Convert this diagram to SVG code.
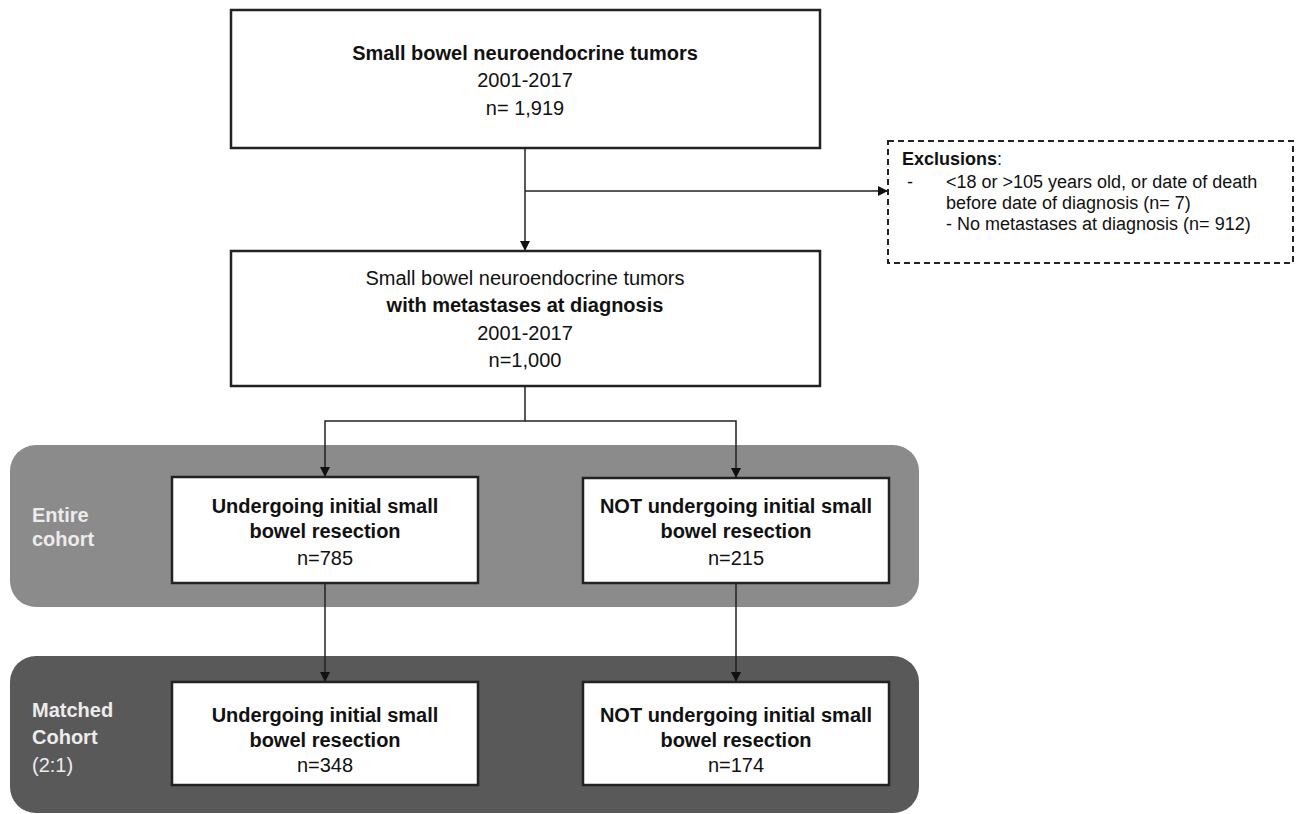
<svg xmlns="http://www.w3.org/2000/svg" width="1302" height="814" viewBox="0 0 1302 814">
<defs>
<marker id="arr" markerWidth="10" markerHeight="10" refX="9" refY="5" orient="auto" markerUnits="userSpaceOnUse"><path d="M0,0 L10,5 L0,10 z" fill="#111"/></marker>
<style>
.box{fill:#fff;stroke:#222;stroke-width:2.5}
.t{font-family:"Liberation Sans",Arial,sans-serif;font-size:20px;fill:#111;text-anchor:middle}
.b{font-weight:bold}
.lab{font-family:"Liberation Sans",Arial,sans-serif;font-size:20px;font-weight:bold;fill:#ececec}
.lab.n{font-weight:normal}
.ex{font-family:"Liberation Sans",Arial,sans-serif;font-size:18px;fill:#111}
.c{fill:none;stroke:#222;stroke-width:1.5}
</style>
</defs>
<rect width="1302" height="814" fill="#fff"/>
<g id="band-entire"><rect x="10" y="445" width="909" height="162" rx="26" fill="#8b8b8b"/>
<text class="lab" x="32" y="522">Entire</text><text class="lab" x="32" y="546">cohort</text></g>
<g id="band-matched"><rect x="10" y="656" width="909" height="157" rx="26" fill="#595959"/>
<text class="lab" x="32" y="717">Matched</text><text class="lab" x="32" y="744">Cohort</text><text class="lab n" x="32" y="772">(2:1)</text></g>
<g id="connectors">
<line class="c" x1="525" y1="148" x2="525" y2="250" marker-end="url(#arr)"/>
<line class="c" x1="525" y1="191" x2="887" y2="191" marker-end="url(#arr)"/>
<polyline class="c" points="525,386 525,421 325,421 325,476" marker-end="url(#arr)"/>
<polyline class="c" points="525,421 736,421 736,477" marker-end="url(#arr)"/>
<line class="c" x1="325" y1="583" x2="325" y2="681" marker-end="url(#arr)"/>
<line class="c" x1="736" y1="583" x2="736" y2="681" marker-end="url(#arr)"/>
</g>
<g id="n-top"><rect class="box" x="231" y="10" width="589" height="138"/>
<text class="t b" x="525" y="60">Small bowel neuroendocrine tumors</text>
<text class="t" x="525" y="87">2001-2017</text>
<text class="t" x="525" y="115">n= 1,919</text></g>
<g id="n-excl"><rect x="888" y="141" width="405" height="122" fill="#fff" stroke="#222" stroke-width="2" stroke-dasharray="6,4"/>
<text class="ex" x="902" y="165"><tspan font-weight="bold">Exclusions</tspan>:</text>
<text class="ex" x="907" y="188">-</text>
<text class="ex" x="946" y="188">&lt;18 or &gt;105 years old, or date of death</text>
<text class="ex" x="946" y="209">before date of diagnosis (n= 7)</text>
<text class="ex" x="946" y="230">- No metastases at diagnosis (n= 912)</text></g>
<g id="n-mid"><rect class="box" x="231" y="251" width="589" height="135"/>
<text class="t" x="525" y="285">Small bowel neuroendocrine tumors</text>
<text class="t b" x="525" y="312">with metastases at diagnosis</text>
<text class="t" x="525" y="340">2001-2017</text>
<text class="t" x="525" y="367">n=1,000</text></g>
<g id="n-e1"><rect class="box" x="172" y="477" width="306" height="106"/>
<text class="t b" x="325" y="513">Undergoing initial small</text>
<text class="t b" x="325" y="538">bowel resection</text>
<text class="t" x="325" y="565">n=785</text></g>
<g id="n-e2"><rect class="box" x="583" y="478" width="306" height="105"/>
<text class="t b" x="736" y="513">NOT undergoing initial small</text>
<text class="t b" x="736" y="538">bowel resection</text>
<text class="t" x="736" y="565">n=215</text></g>
<g id="n-m1"><rect class="box" x="172" y="682" width="306" height="103"/>
<text class="t b" x="325" y="722">Undergoing initial small</text>
<text class="t b" x="325" y="747">bowel resection</text>
<text class="t" x="325" y="772">n=348</text></g>
<g id="n-m2"><rect class="box" x="583" y="682" width="306" height="103"/>
<text class="t b" x="736" y="722">NOT undergoing initial small</text>
<text class="t b" x="736" y="747">bowel resection</text>
<text class="t" x="736" y="772">n=174</text></g>
</svg>
